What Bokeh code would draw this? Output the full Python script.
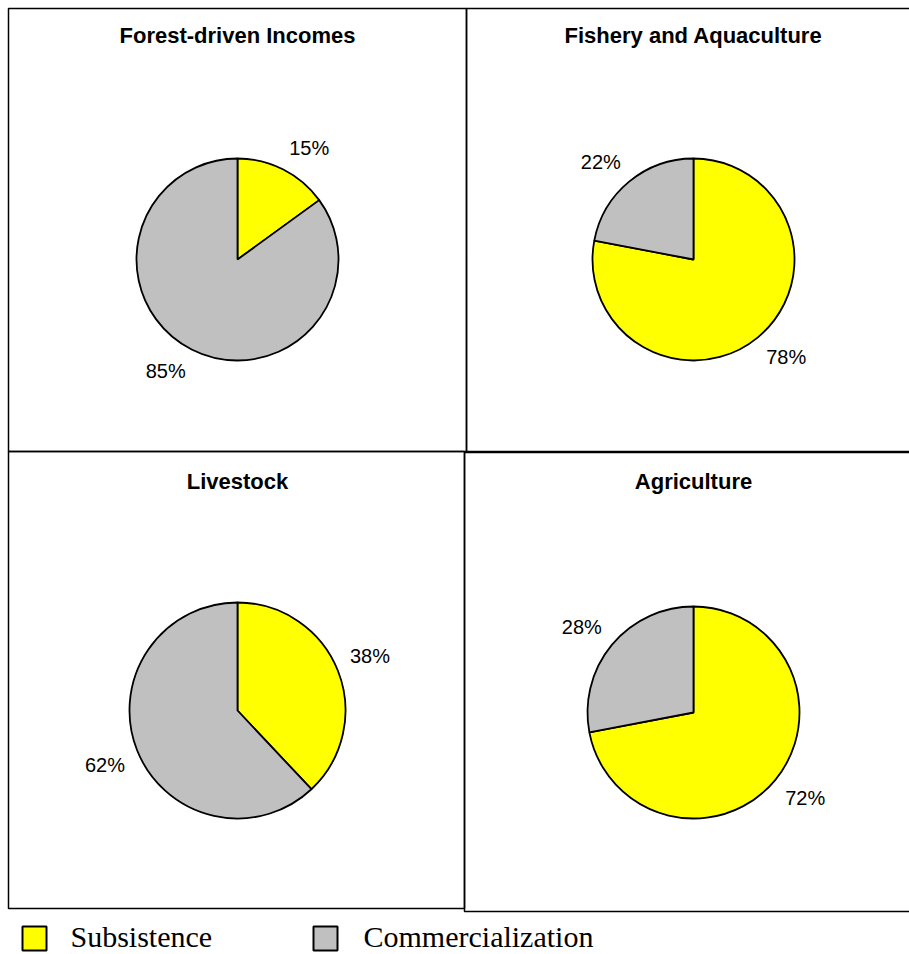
import math
from bokeh.plotting import figure
from bokeh.models import Range1d, ColumnDataSource
from bokeh.core.properties import value
from bokeh.embed import file_html
from bokeh.resources import INLINE

# ---- data ----
panels = ["Forest-driven Incomes", "Fishery and Aquaculture", "Livestock", "Agriculture"]
subsistence = [15, 78, 38, 72]
commercialization = [85, 22, 62, 28]
series_names = ["Subsistence", "Commercialization"]
series_colors = ["#FFFF00", "#C0C0C0"]

# ---- layout (pixel coords, top-left origin) ----
W, H = 909, 954
boxes = [(8, 8, 466, 451), (466, 8, 912, 451), (8, 451, 464, 908), (464, 452, 912, 911)]
centers = [(237, 259), (693, 259), (237, 710), (693, 712)]
radii = [101, 101, 108, 106]
title_y = [35, 35, 481, 481]
LABEL_GAP = 13
LABEL_HALF_W, LABEL_HALF_H = 20, 10

def Y(y):
    return H - y

def sgn(v):
    return 1 if v > 0 else -1

p = figure(width=W, height=H, output_backend="svg", toolbar_location=None,
           x_range=Range1d(0, W), y_range=Range1d(0, H), min_border=0)
p.axis.visible = False
p.grid.visible = False
p.outline_line_color = None
p.background_fill_color = "white"
p.border_fill_color = "white"

# panel borders
p.quad(left=[b[0] for b in boxes], right=[b[2] for b in boxes],
       top=[Y(b[1]) for b in boxes], bottom=[Y(b[3]) for b in boxes],
       fill_color=None, line_color="black", line_width=1.5)

wx, wy, wr, ws, we, wc = [], [], [], [], [], []
lx, ly, lt = [], [], []
for i in range(4):
    cx, cy = centers[i]
    r = radii[i]
    s = subsistence[i] / 100.0
    c = commercialization[i] / 100.0
    top = math.pi / 2
    s_start = top - 2 * math.pi * s
    s_end = top
    c_start = top
    c_end = top + 2 * math.pi * c
    for (a0, a1, col, val) in [(s_start, s_end, series_colors[0], subsistence[i]),
                               (c_start, c_end, series_colors[1], commercialization[i])]:
        wx.append(cx); wy.append(Y(cy)); wr.append(r)
        ws.append(a0); we.append(a1); wc.append(col)
        mid = (a0 + a1) / 2
        d = r + LABEL_GAP
        ax = cx + d * math.cos(mid)
        ay = Y(cy) + d * math.sin(mid)
        lx.append(ax + LABEL_HALF_W * sgn(math.cos(mid)))
        ly.append(ay + LABEL_HALF_H * sgn(math.sin(mid)))
        lt.append(f"{val}%")

src = ColumnDataSource(dict(x=wx, y=wy, r=wr, s=ws, e=we, c=wc))
p.wedge(x="x", y="y", radius="r", start_angle="s", end_angle="e", direction="anticlock",
        fill_color="c", line_color="black", line_width=1.8, source=src)

p.text(x=lx, y=ly, text=lt, text_align="center", text_baseline="middle",
       text_font=value("Liberation Sans"), text_font_size="20px", text_color="black")

# titles
p.text(x=[centers[i][0] for i in range(4)], y=[Y(t) for t in title_y], text=panels,
       text_align="center", text_baseline="middle",
       text_font=value("Liberation Sans"), text_font_style="bold",
       text_font_size="22px", text_color="black")

# legend
leg_x = [22, 313]
leg_text_x = [70, 363]
p.quad(left=leg_x, right=[x + 24 for x in leg_x], top=[Y(926)] * 2, bottom=[Y(950)] * 2,
       fill_color=series_colors, line_color="black", line_width=2)
p.text(x=leg_text_x, y=[Y(936)] * 2, text=series_names, text_align="left",
       text_baseline="middle", text_font=value("Liberation Serif"),
       text_font_size="30px", text_color="black")

open("out.html", "w").write(file_html(p, INLINE))
